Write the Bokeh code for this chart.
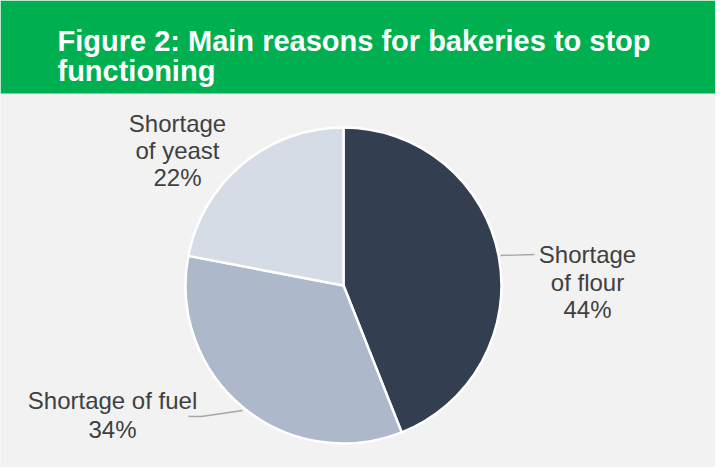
import math
from bokeh.plotting import figure
from bokeh.models import Range1d
from bokeh.core.properties import value
from bokeh.embed import file_html
from bokeh.resources import INLINE

# ---- data ----
categories = ["Shortage of flour", "Shortage of fuel", "Shortage of yeast"]
shares = [44, 34, 22]
colors = ["#333f50", "#adb9ca", "#d6dce5"]
label_lines = [["Shortage", "of flour", "44%"],
               ["Shortage of fuel", "34%"],
               ["Shortage", "of yeast", "22%"]]
title_lines = ["Figure 2: Main reasons for bakeries to stop", "functioning"]

W, H = 715, 467
X0, Y0 = 8, 8  # page margin: data coords == reference pixel coords, y negated

p = figure(width=W, height=H, output_backend="svg", toolbar_location=None,
           x_range=Range1d(X0, X0 + W), y_range=Range1d(-(Y0 + H), -Y0),
           min_border=0, background_fill_color="#f2f2f2", border_fill_color="#f2f2f2",
           outline_line_color=None)
p.axis.visible = False
p.xgrid.visible = False
p.ygrid.visible = False

# header band
p.quad(left=X0, right=X0 + W, top=-Y0, bottom=-101, fill_color="#00b050", line_color=None)
for i, t in enumerate(title_lines):
    p.text(x=[65], y=[-(48 + 30 * i)], text=[t], text_color="white",
           text_font=value("Liberation Sans"), text_font_style="bold",
           text_font_size="29px", text_baseline="alphabetic", text_align="left")

# pie
cx, cy, r = 351, -293, 158
total = sum(shares)
start = math.pi / 2
starts, ends = [], []
for s in shares:
    a = 2 * math.pi * s / total
    starts.append(start)
    ends.append(start - a)
    start -= a
p.wedge(x=[cx] * 3, y=[cy] * 3, radius=r, start_angle=starts, end_angle=ends,
        direction="clock", fill_color=colors, line_color="white", line_width=2.5)

# leader lines
p.line(x=[508, 542], y=[-263, -262], line_color="#a6a6a6", line_width=1.3)
p.line(x=[196, 209, 250], y=[-424, -424, -418], line_color="#a6a6a6", line_width=1.3)

# labels
anchors = [(595, 262), (120, 408), (185, 131)]
steps = [27.5, 29, 27]
for lines, (ax, ay), st in zip(label_lines, anchors, steps):
    for j, ln in enumerate(lines):
        p.text(x=[ax], y=[-(ay + st * j)], text=[ln], text_color="#404040",
               text_font=value("Liberation Sans"), text_font_size="24px",
               text_baseline="alphabetic", text_align="center")

open("out.html", "w").write(file_html(p, INLINE))
